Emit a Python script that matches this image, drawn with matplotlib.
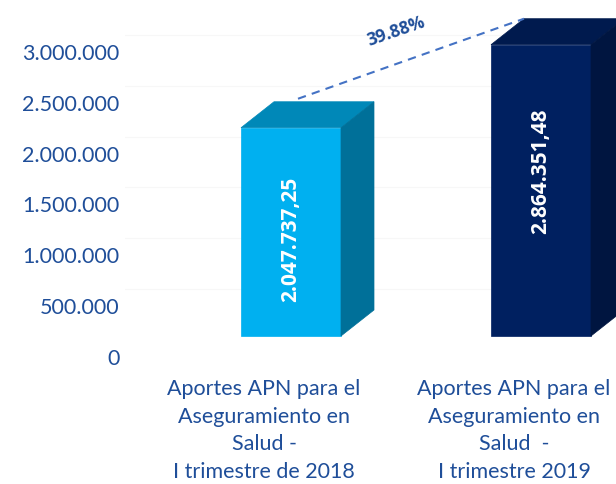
import matplotlib
matplotlib.use("Agg")
import matplotlib.pyplot as plt
from matplotlib.patches import Polygon

categories = ["Aportes APN para el\nAseguramiento en\nSalud -\nI trimestre de 2018",
              "Aportes APN para el\nAseguramiento en\nSalud  -\nI trimestre 2019"]
values = [2047737.25, 2864351.48]
value_labels = ["2.047.737,25", "2.864.351,48"]
growth_label = "39.88%"
yticks = [0, 500000, 1000000, 1500000, 2000000, 2500000, 3000000]
ytick_labels = ["0", "500.000", "1.000.000", "1.500.000", "2.000.000", "2.500.000", "3.000.000"]

front_colors = ["#00B0F0", "#002060"]
top_colors = ["#0088B8", "#001A4E"]
side_colors = ["#007099", "#001540"]
label_frac = [0.47, 0.57]    # relative vertical placement of the value labels
text_blue = "#1F4E99"

plt.rcParams['font.family'] = ['Lato', 'DejaVu Sans']

W, H = 616, 485
fig = plt.figure(figsize=(W / 100, H / 100), dpi=100)
ax_bottom_px = 357
ax_top_px = 11
ax_left_px = 125
ax = fig.add_axes([ax_left_px / W, (H - ax_bottom_px) / H, (W - ax_left_px) / W,
                   (ax_bottom_px - ax_top_px) / H])
ppm = 101.7  # pixels per 1M
ax.set_ylim(0, (ax_bottom_px - ax_top_px) / ppm * 1e6)
ppu = 250.0
ax.set_xlim(-(291 - ax_left_px) / ppu, (W - 291) / ppu)

for s in ax.spines.values():
    s.set_visible(False)
ax.set_yticks(yticks)
ax.set_yticklabels(ytick_labels)
ax.tick_params(axis='y', length=0, pad=4, labelsize=15.5, labelcolor=text_blue)
ax.set_xticks([])

base = 20 / ppm * 1e6        # floor offset of front faces
dx = 33 / ppu                # depth in x units
dy = 26 / ppm * 1e6          # depth in y units
w = 100 / ppu                # bar width

# faint back-wall gridlines
for t in yticks[1:]:
    ax.axhline(t + 16 / ppm * 1e6, color="#F7F7F7", lw=0.8, zorder=0)

for i, v in enumerate(values):
    x0 = i - w / 2
    x1 = i + w / 2
    ytop = base + v
    ax.bar(i, v, width=w, bottom=base, color=front_colors[i], zorder=3,
           edgecolor=front_colors[i], linewidth=0.5)
    ax.add_patch(Polygon([(x0, ytop), (x1, ytop), (x1 + dx, ytop + dy), (x0 + dx, ytop + dy)],
                         closed=True, facecolor=top_colors[i], edgecolor=top_colors[i],
                         lw=0.5, zorder=3, clip_on=False))
    ax.add_patch(Polygon([(x1, base), (x1 + dx, base + dy), (x1 + dx, ytop + dy), (x1, ytop)],
                         closed=True, facecolor=side_colors[i], edgecolor=side_colors[i],
                         lw=0.5, zorder=3, clip_on=False))
    ax.text(i, base + v * label_frac[i], value_labels[i], rotation=90, ha='center', va='center',
            color='white', fontsize=15, fontweight='bold', family=['Open Sans', 'DejaVu Sans'],
            zorder=5)
    ax.text(i - 27 / ppu, -22 / ppm * 1e6, categories[i], ha='center', va='top',
            color=text_blue, fontsize=15.5, linespacing=1.47, clip_on=False)

# growth line
xs = [0 + 7 / ppu, 1 - w / 2 + dx]
ys = [base + values[0] + dy + 3 / ppm * 1e6, base + values[1] + dy]
ax.plot(xs, ys, ls=(0, (4, 3)), color="#4472C4", lw=1.5, zorder=4, clip_on=False)
ax.text(0.42, ys[1] - 12 / ppm * 1e6, growth_label, rotation=19, ha='center', va='center',
        color=text_blue, fontsize=12.5, fontweight='bold', family=['Open Sans', 'DejaVu Sans'],
        zorder=5)

fig.savefig("out.png", dpi=100)
